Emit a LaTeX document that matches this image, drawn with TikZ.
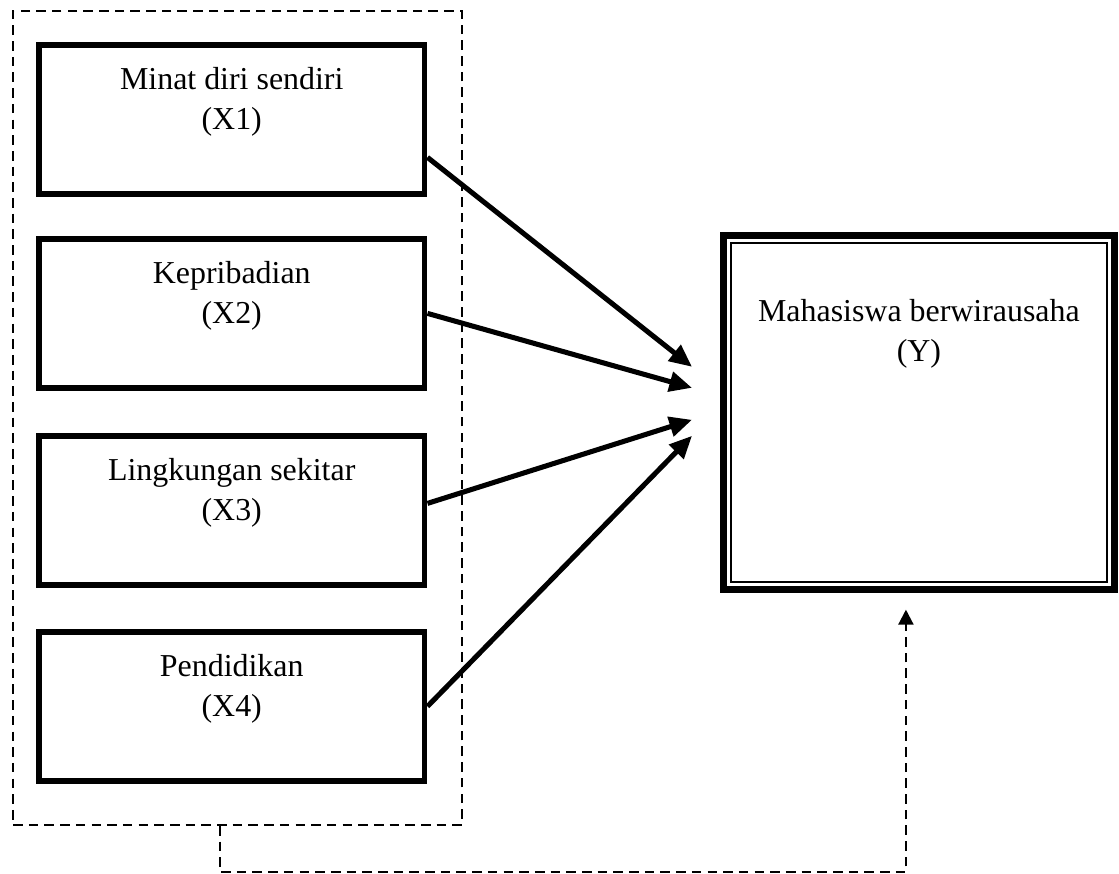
\documentclass[tikz,border=0pt]{standalone}
\usepackage{fontspec}
\setmainfont{Liberation Serif}
\usepackage{tikz}
\usetikzlibrary{calc,arrows.meta}

\begin{document}
\begin{tikzpicture}[x=0.376pt, y=-0.376pt]
  \tikzstyle{mybox}=[draw, line width=2.2pt, anchor=north west, align=center,
    minimum width=145pt, minimum height=56pt, text height=28.5pt,
    text depth=20.8pt, font=\fontsize{12}{15}\selectfont];
  \tikzstyle{mydash}=[line width=0.8pt, dash pattern=on 3.6pt off 2.3pt];
  \tikzstyle{myconn}=[line width=1.9pt, -{Triangle[length=8.5pt,width=7.4pt]}];
  %
  \useasboundingbox (0, 0) rectangle (1119, 874);
  %
  % group of variables X
  \node[draw, mydash, anchor=north west, minimum width=168.8pt,
    minimum height=306pt] (grp) at (12, 10) {};
  %
  \node[mybox] (x1) at (36, 42) {Minat diri sendiri\\(X1)};
  \node[mybox] (x2) at (36, 236) {Kepribadian\\(X2)};
  \node[mybox] (x3) at (36, 433) {Lingkungan sekitar\\(X3)};
  \node[mybox] (x4) at (36, 629) {Pendidikan\\(X4)};
  %
  % variable Y
  \node[mybox, line width=2.6pt, minimum width=147pt, minimum height=133pt,
    text height=44.1pt, text depth=82.2pt] (y) at (720, 232)
    {Mahasiswa berwirausaha\\(Y)};
  \draw[line width=0.75pt] ($(y.north west) + (11, 11)$)
  rectangle ($(y.south east) - (11, 11)$);
  %
  % arrow ends
  \coordinate (t1) at ($(y.west) + (-28, -45.5)$);
  \coordinate (t2) at ($(y.west) + (-28, -24.5)$);
  \coordinate (t3) at ($(y.west) + (-28, 7.5)$);
  \coordinate (t4) at ($(y.west) + (-28, 23.5)$);
  \coordinate (t5) at ($(y.south) + (-13, 17)$);
  %
  % connections
  \draw[myconn] ($(x1.east) + (0, 38)$) -- (t1);
  \draw[myconn] (x2.east) -- (t2);
  \draw[myconn] ($(x3.east) - (0, 7)$) -- (t3);
  \draw[myconn] (x4.east) -- (t4);
  %
  \draw[mydash, -{Triangle[length=5.6pt,width=5.6pt]}]
  ($(grp.south) - (17.5, 0)$) -- ++(0, 46) -| (t5);
\end{tikzpicture}
\end{document}
